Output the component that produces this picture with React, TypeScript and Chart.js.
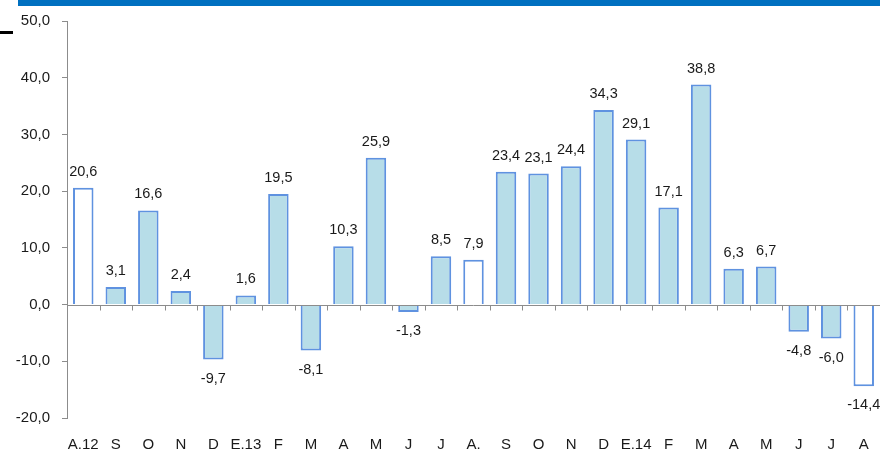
import React, { useEffect, useRef } from "react";
import { Chart, registerables } from "chart.js";

Chart.register(...registerables);

const categories = ["A.12", "S", "O", "N", "D", "E.13", "F", "M", "A", "M", "J", "J", "A.", "S", "O", "N", "D", "E.14", "F", "M", "A", "M", "J", "J", "A"];
const values = [20.6, 3.1, 16.6, 2.4, -9.7, 1.6, 19.5, -8.1, 10.3, 25.9, -1.3, 8.5, 7.9, 23.4, 23.1, 24.4, 34.3, 29.1, 17.1, 38.8, 6.3, 6.7, -4.8, -6.0, -14.4];
const hollowIndices = [0, 12, 24];
const yMin = -20;
const yMax = 50;
const yStep = 10;

const FILL = "#b7dde8";
const BORDER = "#5f92e0";
const AXIS = "#8c8c8c";
const FONT = "'Liberation Sans', Arial, sans-serif";

const fmt = (v: number) => v.toFixed(1).replace(".", ",");

const overlayPlugin = {
  id: "overlay",
  afterDatasetsDraw(chart: any) {
    const { ctx, chartArea, scales } = chart;
    const y0 = Math.round(scales.y.getPixelForValue(0)) + 0.5;
    const n = categories.length;
    const w = (chartArea.right - chartArea.left) / n;
    ctx.save();
    ctx.strokeStyle = AXIS;
    ctx.lineWidth = 1;
    ctx.beginPath();
    ctx.moveTo(chartArea.left, y0);
    ctx.lineTo(chartArea.right, y0);
    for (let i = 0; i <= n; i++) {
      const x = Math.round(chartArea.left + i * w) + 0.5;
      ctx.moveTo(x, y0);
      ctx.lineTo(x, y0 + 5);
    }
    ctx.stroke();

    const meta = chart.getDatasetMeta(0);
    ctx.fillStyle = "#1a1a1a";
    ctx.font = `14.5px ${FONT}`;
    ctx.textAlign = "center";
    ctx.textBaseline = "middle";
    meta.data.forEach((el: any, i: number) => {
      const v = values[i];
      const y = v >= 0 ? el.y - 16 : el.y + 19;
      ctx.fillText(fmt(v), el.x, y);
    });
    ctx.restore();
  },
};

export default function App() {
  const ref = useRef<HTMLCanvasElement | null>(null);

  useEffect(() => {
    if (!ref.current) return;
    const chart = new Chart(ref.current, {
      type: "bar",
      data: {
        labels: categories,
        datasets: [
          {
            data: values,
            backgroundColor: values.map((_, i) => (hollowIndices.includes(i) ? "#ffffff" : FILL)),
            borderColor: BORDER,
            borderWidth: 2,
            categoryPercentage: 1,
            barPercentage: 0.63,
          },
        ],
      },
      options: {
        animation: false,
        responsive: true,
        maintainAspectRatio: false,
        layout: { padding: { top: 20, left: 0, right: 0, bottom: 0 } },
        plugins: {
          legend: { display: false },
          tooltip: { enabled: false },
        },
        scales: {
          x: {
            grid: { display: false, drawTicks: false },
            border: { display: false },
            ticks: {
              color: "#1a1a1a",
              font: { size: 15, family: FONT },
              padding: 18,
              maxRotation: 0,
              autoSkip: false,
            },
            afterFit: (scale: any) => {
              scale.height = 37;
              scale.paddingLeft = 0;
              scale.paddingRight = 0;
            },
          },
          y: {
            min: yMin,
            max: yMax,
            ticks: {
              stepSize: yStep,
              color: "#1a1a1a",
              font: { size: 15, family: FONT },
              padding: 12,
              callback: (v: any) => fmt(Number(v)),
            },
            grid: {
              display: true,
              drawOnChartArea: false,
              drawTicks: true,
              tickLength: 5,
              color: AXIS,
            },
            border: { display: true, color: AXIS, width: 1 },
            afterFit: (scale: any) => {
              scale.width = 67;
            },
          },
        },
      },
      plugins: [overlayPlugin],
    });
    return () => chart.destroy();
  }, []);

  return (
    <div style={{ position: "fixed", left: 0, top: 0, width: 880, height: 455, background: "#fff" }}>
      <div style={{ position: "absolute", left: 18, top: 0, width: 862, height: 6, background: "#0070c0" }} />
      <div style={{ position: "absolute", left: 0, top: 31, width: 13, height: 3, background: "#000" }} />
      <canvas ref={ref} width={880} height={455} />
    </div>
  );
}
